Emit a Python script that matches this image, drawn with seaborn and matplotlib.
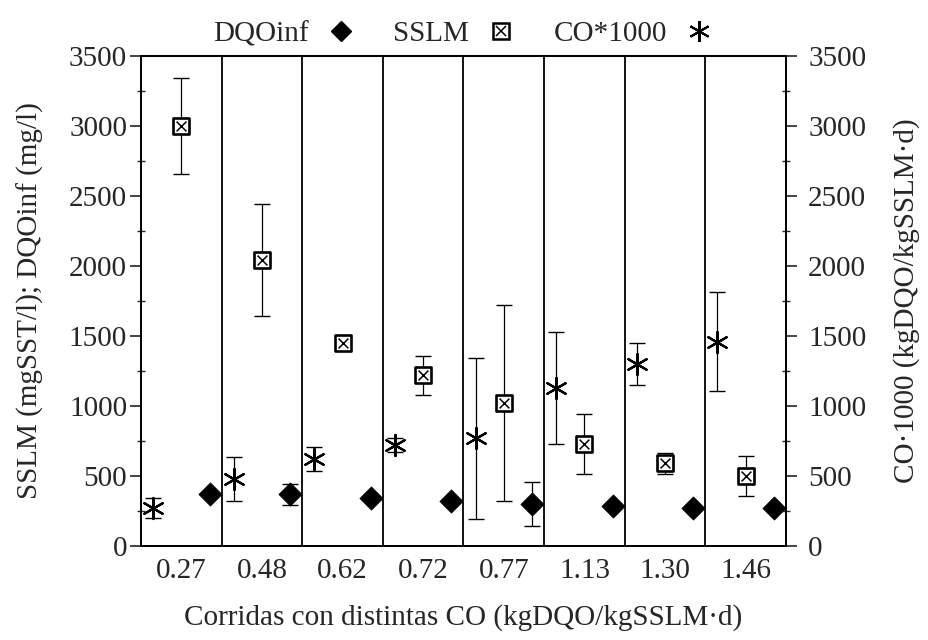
import numpy as np
import pandas as pd
import matplotlib
matplotlib.use("Agg")
import matplotlib.pyplot as plt
import seaborn as sns
from matplotlib.lines import Line2D
from matplotlib.legend_handler import HandlerTuple
from matplotlib.ticker import MultipleLocator

# ---- data ----
runs = ["0.27", "0.48", "0.62", "0.72", "0.77", "1.13", "1.30", "1.46"]
co1000 = [270, 480, 620, 720, 770, 1130, 1300, 1460]
co_err = [70, 157, 85, 50, 575, 400, 150, 355]
sslm = [3000, 2040, 1450, 1220, 1020, 730, 590, 500]
sslm_err = [345, 400, 40, 140, 700, 215, 75, 143]
dqo = [370, 370, 340, 325, 300, 285, 275, 275]
dqo_err = [0, 75, 0, 0, 157, 0, 0, 0]
yticks = [0, 500, 1000, 1500, 2000, 2500, 3000, 3500]

sns.set_style("ticks")
plt.rcParams["font.family"] = ["Liberation Serif", "DejaVu Serif"]
FS = 21

fig = plt.figure(figsize=(9.29, 6.4), dpi=100)
ax = fig.add_axes([141 / 929, 94 / 640, 645 / 929, 490 / 640])

idx = np.arange(len(runs))
df = pd.DataFrame({"i": idx, "run": runs, "co": co1000, "co_err": co_err,
                   "sslm": sslm, "sslm_err": sslm_err, "dqo": dqo, "dqo_err": dqo_err})
df["x_co"] = df["i"] + 0.15
df["x_sslm"] = df["i"] + 0.50
df["x_dqo"] = df["i"] + 0.85

ekw = dict(fmt="none", ecolor="black", elinewidth=0.9, capsize=6, capthick=1.0, zorder=2)
ax.errorbar(df["x_co"], df["co"], yerr=df["co_err"], **ekw)
ax.errorbar(df["x_sslm"], df["sslm"], yerr=df["sslm_err"], **ekw)
ax.errorbar(df["x_dqo"], df["dqo"], yerr=df["dqo_err"], **ekw)

ast = (6, 2, 0)
sns.scatterplot(data=df, x="x_co", y="co", marker=ast, s=230, color="black",
                linewidth=1.6, ax=ax, zorder=3, legend=False)
sns.scatterplot(data=df, x="x_sslm", y="sslm", marker="s", s=135, facecolor="white",
                edgecolor="black", linewidth=1.9, ax=ax, zorder=3, legend=False)
sns.scatterplot(data=df, x="x_sslm", y="sslm", marker="x", s=50, color="black",
                linewidth=1.1, ax=ax, zorder=4, legend=False)
sns.scatterplot(data=df, x="x_dqo", y="dqo", marker="D", s=140, color="black",
                edgecolor="black", linewidth=0.5, ax=ax, zorder=3, legend=False)

for b in range(1, len(runs)):
    ax.axvline(b, color="black", lw=1.3, zorder=1)

ax.set_xlim(0, len(runs))
ax.set_ylim(0, 3500)
ax.set_xticks(idx + 0.5)
ax.set_xticklabels(runs, fontsize=FS)
ax.tick_params(axis="x", length=0, pad=9)
ax.set_yticks(yticks)
ax.yaxis.set_minor_locator(MultipleLocator(250))
ax.tick_params(axis="y", which="major", direction="out", length=8, width=1.2, labelsize=FS, pad=2)
ax.tick_params(axis="y", which="minor", direction="inout", length=6, width=1.0)
ax.set_xlabel("Corridas con distintas CO (kgDQO/kgSSLM·d)", fontsize=FS, labelpad=14)
ax.set_ylabel("SSLM (mgSST/l); DQOinf (mg/l)", fontsize=FS, labelpad=18)
for s in ax.spines.values():
    s.set_linewidth(1.3)
    s.set_color("black")

ax2 = ax.twinx()
ax2.set_ylim(0, 3500)
ax2.set_yticks(yticks)
ax2.yaxis.set_minor_locator(MultipleLocator(250))
ax2.tick_params(axis="y", which="major", direction="out", length=8, width=1.2, labelsize=FS, pad=8)
ax2.tick_params(axis="y", which="minor", direction="inout", length=6, width=1.0)
ax2.set_ylabel("CO·1000 (kgDQO/kgSSLM·d)", fontsize=FS, labelpad=19)
for s in ax2.spines.values():
    s.set_linewidth(1.3)
    s.set_color("black")

h_dqo = Line2D([], [], marker="D", color="black", linestyle="none", markersize=10)
h_sq = Line2D([], [], marker="s", markerfacecolor="white", markeredgecolor="black",
              markeredgewidth=1.8, linestyle="none", markersize=11)
h_x = Line2D([], [], marker="x", color="black", markeredgewidth=1.1, linestyle="none", markersize=7)
h_co = Line2D([], [], marker=ast, color="black", markeredgewidth=1.5, linestyle="none", markersize=15)
ax.legend([h_dqo, (h_sq, h_x), h_co], ["DQOinf", "SSLM", "CO*1000"],
          handler_map={tuple: HandlerTuple(ndivide=1)},
          loc="lower center", bbox_to_anchor=(0.5, 1.012), ncol=3, frameon=False,
          markerfirst=False, handlelength=1.0, columnspacing=1.3, handletextpad=0.6,
          fontsize=FS, borderaxespad=0.0, borderpad=0.1)

fig.savefig("out.png", dpi=100)
